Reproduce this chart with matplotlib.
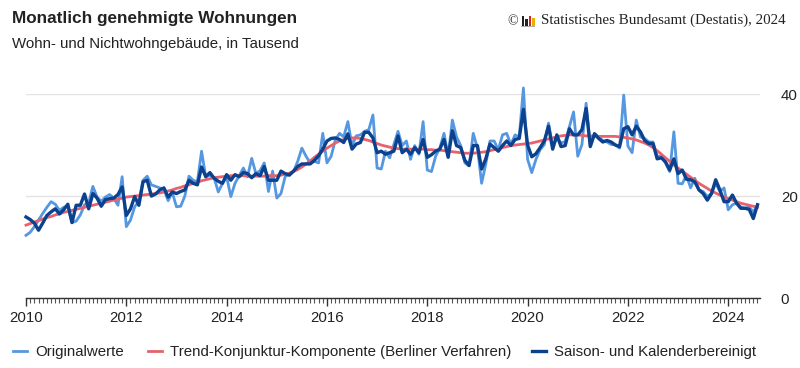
import numpy as np
import matplotlib
matplotlib.use("Agg")
from matplotlib import pyplot as plt
from matplotlib.patches import Rectangle
from matplotlib.ticker import MultipleLocator, FixedLocator

plt.rcParams['font.family'] = ['Liberation Sans', 'DejaVu Sans']

# monthly values from Jan 2010 on, in thousands
start_year = 2010

original = [
    12.3, 12.9, 14.0, 15.3, 16.6, 17.8, 18.9, 18.4, 17.2, 17.8, 18.0, 14.8,  # 2010
    15.1, 16.3, 18.3, 18.7, 21.9, 19.8, 19.0, 19.8, 20.3, 19.6, 18.2, 23.8,  # 2011
    14.0, 15.3, 17.9, 19.0, 23.1, 23.9, 22.2, 21.9, 21.6, 21.3, 19.1, 20.7,  # 2012
    17.9, 18.0, 20.0, 23.9, 23.1, 22.8, 28.8, 23.8, 24.1, 23.6, 20.8, 22.5,  # 2013
    23.8, 19.9, 22.5, 24.0, 25.5, 23.8, 27.4, 24.4, 25.0, 26.5, 20.9, 24.9,  # 2014
    19.6, 20.5, 23.8, 24.4, 24.8, 26.8, 29.4, 27.8, 26.5, 26.8, 26.5, 32.3,  # 2015
    26.5, 27.8, 31.0, 32.3, 31.6, 34.6, 29.9, 31.8, 32.0, 32.7, 33.0, 35.9,  # 2016
    25.5, 25.3, 28.8, 27.5, 30.1, 32.7, 29.9, 30.8, 27.2, 29.9, 28.2, 34.6,  # 2017
    25.1, 24.8, 27.8, 29.4, 32.3, 27.8, 34.9, 31.6, 29.9, 26.5, 25.9, 32.3,  # 2018
    29.4, 22.5, 26.3, 30.8, 30.8, 29.1, 32.0, 32.3, 30.1, 32.0, 31.6, 41.2,  # 2019
    27.2, 24.6, 27.2, 29.1, 30.1, 34.3, 29.8, 31.3, 30.4, 30.7, 33.6, 36.5,  # 2020
    27.8, 30.1, 38.2, 29.8, 32.3, 31.6, 30.9, 30.6, 30.1, 30.1, 29.4, 39.8,  # 2021
    29.8, 28.5, 34.9, 31.6, 31.3, 30.6, 30.6, 27.8, 27.8, 26.5, 24.8, 32.6,  # 2022
    22.5, 22.4, 24.1, 21.6, 23.5, 21.2, 20.9, 19.9, 20.5, 22.5, 20.9, 21.6,  # 2023
    17.3, 18.3, 18.6, 17.9, 17.6, 17.9, 16.9, 18.2,                          # 2024
]

trend = [
    14.3, 14.6, 14.9, 15.2, 15.5, 15.8, 16.0, 16.3, 16.5, 16.8, 17.0, 17.2,
    17.4, 17.6, 17.8, 18.0, 18.2, 18.4, 18.6, 18.8, 19.0, 19.2, 19.4, 19.6,
    19.8, 19.9, 20.0, 20.1, 20.2, 20.3, 20.4, 20.5, 20.6, 20.8, 21.0, 21.2,
    21.5, 21.7, 22.0, 22.2, 22.5, 22.7, 23.0, 23.2, 23.4, 23.6, 23.7, 23.8,
    23.9, 24.0, 24.0, 24.0, 24.0, 23.9, 23.9, 23.9, 23.9, 23.9, 24.0, 24.0,
    24.0, 24.1, 24.3, 24.5, 24.8, 25.2, 25.7, 26.3, 26.9, 27.6, 28.2, 28.8,
    29.4, 29.9, 30.4, 30.8, 31.1, 31.3, 31.4, 31.4, 31.3, 31.1, 30.9, 30.6,
    30.3, 30.0, 29.8, 29.6, 29.4, 29.3, 29.2, 29.2, 29.2, 29.2, 29.2, 29.2,
    29.1, 29.1, 29.0, 29.0, 28.9, 28.8, 28.7, 28.6, 28.5, 28.4, 28.4, 28.4,
    28.5, 28.6, 28.7, 28.9, 29.1, 29.3, 29.5, 29.7, 29.9, 30.0, 30.1, 30.2,
    30.3, 30.4, 30.6, 30.8, 31.0, 31.2, 31.4, 31.6, 31.8, 31.9, 32.0, 32.0,
    32.0, 31.9, 31.8, 31.8, 31.7, 31.7, 31.7, 31.7, 31.7, 31.7, 31.6, 31.5,
    31.4, 31.2, 31.0, 30.7, 30.4, 30.0, 29.5, 28.9, 28.2, 27.5, 26.8, 26.1,
    25.5, 24.9, 24.3, 23.7, 23.1, 22.5, 22.0, 21.5, 21.0, 20.6, 20.2, 19.8,
    19.5, 19.2, 18.9, 18.6, 18.4, 18.2, 18.0, 17.8,
]

adjusted = [
    15.9, 15.4, 14.7, 13.3, 14.7, 16.2, 16.9, 17.5, 16.5, 17.3, 18.4, 14.8,
    18.2, 18.2, 20.4, 17.5, 20.5, 19.6, 18.0, 19.3, 19.5, 19.6, 20.3, 21.8,
    16.2, 17.5, 19.9, 18.2, 22.8, 23.1, 20.0, 20.4, 21.2, 21.6, 19.8, 20.8,
    20.5, 20.9, 21.2, 23.1, 22.5, 22.2, 25.7, 23.8, 24.6, 23.5, 22.9, 22.5,
    24.2, 23.1, 24.2, 23.8, 24.6, 24.4, 23.6, 24.4, 24.0, 25.8, 23.1, 23.1,
    23.1, 24.9, 24.4, 24.1, 24.9, 25.8, 26.3, 26.3, 26.3, 27.0, 27.9, 29.2,
    30.8, 31.3, 31.4, 31.1, 30.5, 32.2, 29.2, 30.2, 30.5, 32.5, 32.5, 31.4,
    28.5, 28.8, 28.2, 28.5, 28.8, 31.8, 28.5, 29.2, 28.2, 29.5, 28.5, 31.1,
    27.6, 28.1, 28.8, 29.2, 31.1, 27.6, 32.8, 29.9, 29.5, 27.0, 26.0, 29.9,
    29.9, 25.3, 27.3, 30.2, 29.5, 28.8, 29.9, 30.8, 29.9, 31.1, 31.3, 37.0,
    30.0, 27.7, 28.3, 29.5, 30.8, 33.7, 29.2, 32.0, 29.7, 29.9, 33.2, 32.0,
    32.0, 33.0, 37.2, 29.7, 32.2, 31.3, 30.6, 30.9, 30.6, 30.0, 29.7, 33.2,
    33.6, 32.0, 33.7, 32.6, 30.9, 30.3, 30.3, 27.3, 27.5, 26.7, 25.1, 27.3,
    24.4, 25.1, 23.3, 23.2, 22.8, 21.2, 20.5, 19.2, 20.5, 23.2, 21.2, 18.9,
    18.9, 20.2, 18.6, 17.6, 17.6, 17.4, 15.6, 18.3,
]

labels = ["Originalwerte", "Trend-Konjunktur-Komponente (Berliner Verfahren)",
          "Saison- und Kalenderbereinigt"]
colors = ["#5597e0", "#e8616c", "#0c418e"]
year_ticks = [2010, 2012, 2014, 2016, 2018, 2020, 2022, 2024]
y_ticks = [0, 20, 40]

x = start_year + np.arange(len(original)) / 12

fig = plt.figure(figsize=(8, 3.68), dpi=100)
ax = fig.add_axes([0.0325, 0.19, 0.9175, 0.5544])

l1, = ax.plot(x, original, color=colors[0], lw=2.0, label=labels[0], clip_on=False, zorder=3)
l2, = ax.plot(x, trend, color=colors[1], lw=2.0, label=labels[1], clip_on=False, zorder=4)
l3, = ax.plot(x, adjusted, color=colors[2], lw=2.4, label=labels[2], clip_on=False, zorder=5)

ax.set_xlim(2010, 2024 + 7.6 / 12)
ax.set_ylim(0, 40)

# grid + axes look
for s in ["top", "left", "right"]:
    ax.spines[s].set_visible(False)
ax.spines["bottom"].set_color("#333333")
ax.spines["bottom"].set_linewidth(1.0)
ax.yaxis.set_major_locator(FixedLocator(y_ticks))
ax.yaxis.tick_right()
ax.grid(axis="y", color="#e3e3e3", lw=1.0, zorder=0)
ax.tick_params(axis="y", length=0, pad=15, labelsize=10.8, labelcolor="#222222")

ax.xaxis.set_major_locator(FixedLocator(year_ticks))
ax.xaxis.set_minor_locator(MultipleLocator(1 / 12))
ax.tick_params(axis="x", which="major", length=6, width=1, color="#333333",
               labelsize=10.8, labelcolor="#222222", pad=3)
ax.tick_params(axis="x", which="minor", length=3.5, width=0.8, color="#555555")
ax.set_xticklabels([str(y) for y in year_ticks])

# titles
fig.text(0.015, 0.95, "Monatlich genehmigte Wohnungen", fontsize=12.3,
         fontweight="bold", color="#222222", va="center")
fig.text(0.015, 0.88, "Wohn- und Nichtwohngebäude, in Tausend", fontsize=10.8,
         color="#222222", va="center")

fig.text(0.982, 0.945, "Statistisches Bundesamt (Destatis), 2024",
         family="Liberation Serif", fontsize=10.8, ha="right", va="center",
         color="#222222")
fig.text(0.634, 0.94, "©", family="Liberation Serif", fontsize=10,
         ha="left", va="center", color="#222222")
# little logo bars
for bx, bh, bc in [(0.652, 0.026, "#222222"), (0.6565, 0.019, "#222222"),
                   (0.661, 0.026, "#d4202a"), (0.6655, 0.022, "#e8b100")]:
    fig.add_artist(Rectangle((bx, 0.93), 0.003, bh, transform=fig.transFigure,
                             color=bc, lw=0))
fig.add_artist(Rectangle((0.651, 0.927), 0.018, 0.003, transform=fig.transFigure,
                         color="#b0b0b0", lw=0))

# legend, one entry each so the gaps can follow the reference
for line, xpos in [(l1, 0.012), (l2, 0.181), (l3, 0.661)]:
    leg = fig.legend(handles=[line], loc="center left", bbox_to_anchor=(xpos, 0.043),
                     frameon=False, handlelength=0.95, handletextpad=0.55,
                     borderaxespad=0, borderpad=0.2, fontsize=10.8)
    for t in leg.get_texts():
        t.set_color("#222222")

fig.savefig("out.png", dpi=100)
